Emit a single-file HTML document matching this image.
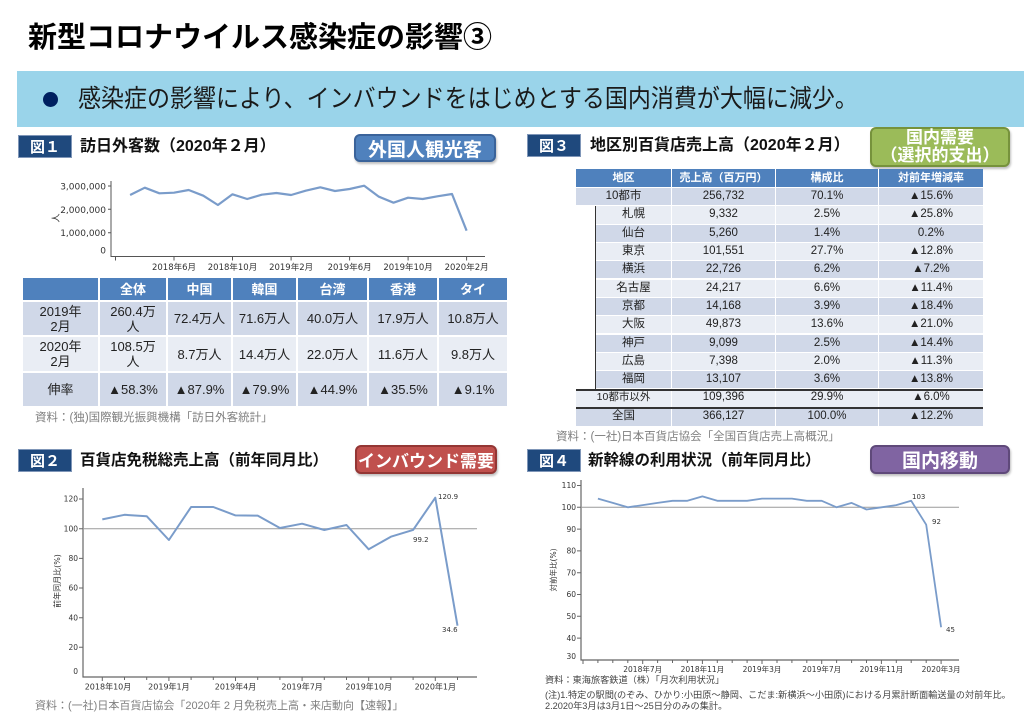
<!DOCTYPE html>
<html><head><meta charset="utf-8"><style>
*{margin:0;padding:0;box-sizing:border-box}
body{width:1024px;height:713px;background:#fff;position:relative;overflow:hidden;font-family:"Liberation Sans","Noto Sans CJK JP",sans-serif;color:#1a1a1a}
.a{position:absolute;white-space:nowrap}
.title{left:28px;top:23px;font-size:29px;line-height:30px;font-weight:bold;color:#000}
.banner{left:17px;top:71px;width:1007px;height:56px;background:#9ad4ea}
.bullet{left:43px;top:92px;width:15px;height:15px;border-radius:50%;background:#002060}
.btext{left:78px;top:86px;font-size:25px;line-height:27px;transform:scaleX(0.92);transform-origin:0 0;color:#1a1a1a}
.fig{background:#1f497d;color:#fff;font-weight:bold;font-size:15px;display:flex;align-items:center;justify-content:center;width:54px;height:23px;border:1px solid #7f96b8}
.ft{font-weight:bold;font-size:16px;line-height:16px;color:#111}
.btn{color:#fff;font-weight:bold;display:flex;align-items:center;justify-content:center;border-radius:6px;text-align:center;box-shadow:1px 2px 2px rgba(0,0,0,0.25)}
.src{color:#7f7f7f;font-size:11.5px;line-height:12px}
.g1{left:23px;top:278px;width:484px;display:grid;grid-template-columns:75px 66px 63px 63px 69px 68px 68px;grid-template-rows:22px 33px 34px 33px;gap:2px}
.g1 div{display:flex;align-items:center;justify-content:center;text-align:center;font-size:13px;line-height:15px;color:#222}
.g1 .h{background:#4f81bd;color:#fff;font-weight:bold}
.g1 .d{background:#d0d8e8}
.g1 .l{background:#e9edf4}
.r{position:absolute;left:576px;width:407px;height:17.3px;display:flex;font-size:11.5px;line-height:17.3px;color:#222}
.r span{display:block;text-align:center;border-right:1.5px solid #fff;overflow:hidden;white-space:nowrap}
.r span:last-child{border-right:none}
.r .c0{width:96px}.r .c1{width:104px}.r .c2{width:103px}.r .c3{width:104px}
.r.i .c0{width:76px;margin-left:20px}
.r.d span{background:#d0d8e8}
.r.l span{background:#e9edf4}
.r.h span{background:#4f81bd;color:#fff;font-weight:bold;font-size:11px}
</style></head><body>

<div class="a title">新型コロナウイルス感染症の影響③</div>
<div class="a banner"></div>
<div class="a bullet"></div>
<div class="a btext">感染症の影響により、インバウンドをはじめとする国内消費が大幅に減少。</div>

<!-- Fig 1 header -->
<div class="a fig" style="left:18px;top:135px">図１</div>
<div class="a ft" style="left:80px;top:138.5px">訪日外客数（2020年２月）</div>
<div class="a btn" style="left:354px;top:134px;width:142px;height:28px;background:#4f81bd;border:2px solid #3a639a;font-size:19px">外国人観光客</div>

<!-- Fig 3 header -->
<div class="a fig" style="left:527px;top:134px">図３</div>
<div class="a ft" style="left:590px;top:137.5px">地区別百貨店売上高（2020年２月）</div>
<div class="a btn" style="left:870px;top:127px;width:140px;height:40px;background:#9bbb59;border:2px solid #76923c;font-size:17px;line-height:18px">国内需要<br>（選択的支出）</div>

<!-- Fig 2 header -->
<div class="a fig" style="left:18px;top:449px">図２</div>
<div class="a ft" style="left:80px;top:452.5px;font-size:15.5px">百貨店免税総売上高（前年同月比）</div>
<div class="a btn" style="left:355px;top:445px;width:142px;height:29px;background:#c0504d;border:2px solid #943634;font-size:17px">インバウンド需要</div>

<!-- Fig 4 header -->
<div class="a fig" style="left:527px;top:449px">図４</div>
<div class="a ft" style="left:588px;top:452.5px;font-size:15.5px">新幹線の利用状況（前年同月比）</div>
<div class="a btn" style="left:870px;top:445px;width:140px;height:29px;background:#8064a2;border:2px solid #5f497a;font-size:19px">国内移動</div>

<!-- Fig 1 table -->
<div class="a g1">
<div class="h"></div><div class="h">全体</div><div class="h">中国</div><div class="h">韓国</div><div class="h">台湾</div><div class="h">香港</div><div class="h">タイ</div>
<div class="d">2019年<br>2月</div><div class="d">260.4万<br>人</div><div class="d">72.4万人</div><div class="d">71.6万人</div><div class="d">40.0万人</div><div class="d">17.9万人</div><div class="d">10.8万人</div>
<div class="l">2020年<br>2月</div><div class="l">108.5万<br>人</div><div class="l">8.7万人</div><div class="l">14.4万人</div><div class="l">22.0万人</div><div class="l">11.6万人</div><div class="l">9.8万人</div>
<div class="d">伸率</div><div class="d">▲58.3%</div><div class="d">▲87.9%</div><div class="d">▲79.9%</div><div class="d">▲44.9%</div><div class="d">▲35.5%</div><div class="d">▲9.1%</div>
</div>
<div class="a src" style="left:35px;top:412px">資料：(独)国際観光振興機構「訪日外客統計」</div>

<!-- Fig 3 table -->
<div class="r h" style="top:169px;height:18px;line-height:18px"><span class="c0">地区</span><span class="c1">売上高（百万円）</span><span class="c2">構成比</span><span class="c3">対前年増減率</span></div>
<div class="r d" style="top:188px"><span class="c0">10都市</span><span class="c1">256,732</span><span class="c2">70.1%</span><span class="c3">▲15.6%</span></div>
<div class="r l i" style="top:206.3px"><span class="c0">札幌</span><span class="c1">9,332</span><span class="c2">2.5%</span><span class="c3">▲25.8%</span></div>
<div class="r d i" style="top:224.6px"><span class="c0">仙台</span><span class="c1">5,260</span><span class="c2">1.4%</span><span class="c3">0.2%</span></div>
<div class="r l i" style="top:242.9px"><span class="c0">東京</span><span class="c1">101,551</span><span class="c2">27.7%</span><span class="c3">▲12.8%</span></div>
<div class="r d i" style="top:261.2px"><span class="c0">横浜</span><span class="c1">22,726</span><span class="c2">6.2%</span><span class="c3">▲7.2%</span></div>
<div class="r l i" style="top:279.6px"><span class="c0">名古屋</span><span class="c1">24,217</span><span class="c2">6.6%</span><span class="c3">▲11.4%</span></div>
<div class="r d i" style="top:297.9px"><span class="c0">京都</span><span class="c1">14,168</span><span class="c2">3.9%</span><span class="c3">▲18.4%</span></div>
<div class="r l i" style="top:316.2px"><span class="c0">大阪</span><span class="c1">49,873</span><span class="c2">13.6%</span><span class="c3">▲21.0%</span></div>
<div class="r d i" style="top:334.5px"><span class="c0">神戸</span><span class="c1">9,099</span><span class="c2">2.5%</span><span class="c3">▲14.4%</span></div>
<div class="r l i" style="top:352.8px"><span class="c0">広島</span><span class="c1">7,398</span><span class="c2">2.0%</span><span class="c3">▲11.3%</span></div>
<div class="r d i" style="top:371.1px"><span class="c0">福岡</span><span class="c1">13,107</span><span class="c2">3.6%</span><span class="c3">▲13.8%</span></div>
<div class="r l" style="top:389.4px"><span class="c0" style="font-size:10.5px">10都市以外</span><span class="c1">109,396</span><span class="c2">29.9%</span><span class="c3">▲6.0%</span></div>
<div class="r d" style="top:407.7px;height:18.3px"><span class="c0">全国</span><span class="c1">366,127</span><span class="c2">100.0%</span><span class="c3">▲12.2%</span></div>
<div class="a" style="left:594.5px;top:206px;width:1.5px;height:184px;background:#333"></div>
<div class="a" style="left:576px;top:389px;width:407px;height:1.5px;background:#333"></div>
<div class="a" style="left:576px;top:407.3px;width:407px;height:1.5px;background:#333"></div>
<div class="a src" style="left:556px;top:431px">資料：(一社)日本百貨店協会「全国百貨店売上高概況」</div>

<div class="a src" style="left:35px;top:699.5px;font-size:11px">資料：(一社)日本百貨店協会「2020年 2 月免税売上高・来店動向【速報】」</div>

<div class="a" style="left:545px;top:674.5px;font-size:9.2px;line-height:11px;color:#444">資料：東海旅客鉄道（株）「月次利用状況」</div>
<div class="a" style="left:545px;top:689.5px;font-size:9.2px;line-height:11px;color:#444">(注)1.特定の駅間(のぞみ、ひかり:小田原～静岡、こだま:新横浜～小田原)における月累計断面輸送量の対前年比。</div>
<div class="a" style="left:545px;top:700.5px;font-size:9.2px;line-height:11px;color:#444">2.2020年3月は3月1日～25日分のみの集計。</div>

<svg class="a" style="left:0;top:0" width="1024" height="713" viewBox="0 0 1024 713" xmlns="http://www.w3.org/2000/svg">
<g font-family="DejaVu Sans, Noto Sans CJK JP, sans-serif" fill="#333">
<!-- Fig 1 chart -->
<line x1="111" y1="181" x2="111" y2="257" stroke="#555" stroke-width="1"/>
<line x1="110.5" y1="256.5" x2="485" y2="256.5" stroke="#555" stroke-width="1"/>
<path d="M108 186H111M108 209.3H111M108 232.7H111M115.5 256.5v4M174 256.5v4M232.5 256.5v4M291.1 256.5v4M349.6 256.5v4M408.1 256.5v4M466.6 256.5v4" stroke="#555" stroke-width="1" fill="none"/>
<g font-size="9" text-anchor="end">
<text x="106" y="189.5">3,000,000</text>
<text x="106" y="212.8">2,000,000</text>
<text x="106" y="236">1,000,000</text>
<text x="106" y="253.5">0</text>
</g>
<g font-size="8.5" text-anchor="middle">
<text x="174" y="270">2018年6月</text>
<text x="232.5" y="270">2018年10月</text>
<text x="291.1" y="270">2019年2月</text>
<text x="349.6" y="270">2019年6月</text>
<text x="408.1" y="270">2019年10月</text>
<text x="466.6" y="270">2020年2月</text>
</g>
<text x="0" y="0" font-size="9" text-anchor="middle" transform="translate(59,218) rotate(-90)">人</text>
<polyline fill="none" stroke="#7a9cca" stroke-width="2.2" stroke-linejoin="round" points="130.1,195 144.8,187.7 159.4,193.3 174,192.7 188.7,190 203.3,195.7 217.9,205 232.5,194.3 247.2,199 261.8,194.7 276.4,193 291.1,195 305.7,190.7 320.3,187.3 335,191 349.6,189 364.2,185.7 378.9,196.7 393.5,202.7 408.1,197.7 422.7,199 437.4,196.3 452,194 466.6,230.7"/>

<!-- Fig 2 chart -->
<line x1="83" y1="488" x2="83" y2="677.5" stroke="#666" stroke-width="1.2"/>
<line x1="82.5" y1="677" x2="477" y2="677" stroke="#666" stroke-width="1.2"/>
<line x1="83" y1="528.7" x2="477" y2="528.7" stroke="#9a9a9a" stroke-width="1"/>
<path d="M79 499H83M79 528.7H83M79 558.4H83M79 588H83M79 617.7H83M79 647.3H83" stroke="#666" fill="none"/>
<path d="M102.3 677v4M124.5 677v3M146.7 677v3M168.9 677v4M191.1 677v3M213.3 677v3M235.5 677v4M257.7 677v3M279.9 677v3M302.1 677v4M324.3 677v3M346.5 677v3M368.7 677v4M390.9 677v3M413.1 677v3M435.3 677v4M457.5 677v3" stroke="#666" fill="none"/>
<g font-size="7.5" text-anchor="end">
<text x="78" y="501.7">120</text>
<text x="78" y="531.4">100</text>
<text x="78" y="561">80</text>
<text x="78" y="590.7">60</text>
<text x="78" y="620.4">40</text>
<text x="78" y="650">20</text>
<text x="78" y="674">0</text>
</g>
<g font-size="8" text-anchor="middle">
<text x="108" y="689.5">2018年10月</text>
<text x="168.9" y="689.5">2019年1月</text>
<text x="235.5" y="689.5">2019年4月</text>
<text x="302.1" y="689.5">2019年7月</text>
<text x="368.7" y="689.5">2019年10月</text>
<text x="435.3" y="689.5">2020年1月</text>
</g>
<text x="0" y="0" font-size="8" text-anchor="middle" transform="translate(60,581) rotate(-90)">前年同月比(%)</text>
<polyline fill="none" stroke="#7a9cca" stroke-width="2" stroke-linejoin="round" points="102.3,519.4 124.5,514.8 146.7,516.2 168.9,540 191.1,507 213.3,507 235.5,515.4 257.7,515.6 279.9,528 302.1,523.7 324.3,530 346.5,525 368.7,549.3 390.9,536.7 413.1,529.9 435.3,497.7 457.5,625.7"/>
<g font-size="7">
<text x="438" y="499">120.9</text>
<text x="413" y="542">99.2</text>
<text x="442" y="632">34.6</text>
</g>

<!-- Fig 4 chart -->
<line x1="581" y1="480" x2="581" y2="660.5" stroke="#666" stroke-width="1.2"/>
<line x1="580.5" y1="660" x2="959" y2="660" stroke="#666" stroke-width="1.2"/>
<line x1="581" y1="507.3" x2="959" y2="507.3" stroke="#9a9a9a" stroke-width="1"/>
<path d="M577 485.5H581M577 507.3H581M577 529.1H581M577 550.9H581M577 572.7H581M577 594.5H581M577 616.3H581M577 638.1H581" stroke="#666" fill="none"/>
<path d="M583 660v4M597.9 660v3M612.8 660v3M627.8 660v3M642.7 660v4M657.6 660v3M672.5 660v3M687.4 660v3M702.4 660v4M717.3 660v3M732.2 660v3M747.1 660v3M762 660v4M777 660v3M791.9 660v3M806.8 660v3M821.7 660v4M836.6 660v3M851.6 660v3M866.5 660v3M881.4 660v4M896.3 660v3M911.2 660v3M926.2 660v3M941.1 660v4" stroke="#666" fill="none"/>
<g font-size="7.5" text-anchor="end">
<text x="576" y="488.2">110</text>
<text x="576" y="510">100</text>
<text x="576" y="531.8">90</text>
<text x="576" y="553.6">80</text>
<text x="576" y="575.4">70</text>
<text x="576" y="597.2">60</text>
<text x="576" y="619">50</text>
<text x="576" y="640.8">40</text>
<text x="576" y="659">30</text>
</g>
<g font-size="7.5" text-anchor="middle">
<text x="642.7" y="672">2018年7月</text>
<text x="702.4" y="672">2018年11月</text>
<text x="762" y="672">2019年3月</text>
<text x="821.7" y="672">2019年7月</text>
<text x="881.4" y="672">2019年11月</text>
<text x="941.1" y="672">2020年3月</text>
</g>
<text x="0" y="0" font-size="7.5" text-anchor="middle" transform="translate(556,570) rotate(-90)">対前年比(%)</text>
<polyline fill="none" stroke="#7a9cca" stroke-width="1.8" stroke-linejoin="round" points="597.9,498.6 612.8,502.9 627.8,507.3 642.7,505.1 657.6,502.9 672.5,500.8 687.4,500.8 702.4,496.4 717.3,500.8 732.2,500.8 747.1,500.8 762,498.6 777,498.6 791.9,498.6 806.8,500.8 821.7,500.8 836.6,507.3 851.6,502.9 866.5,509.5 881.4,507.3 896.3,505.1 911.2,500.8 926.2,524.7 941.1,627.2"/>
<g font-size="7">
<text x="912" y="499">103</text>
<text x="932" y="524">92</text>
<text x="946" y="632">45</text>
</g>
</g>
</svg>
</body></html>
